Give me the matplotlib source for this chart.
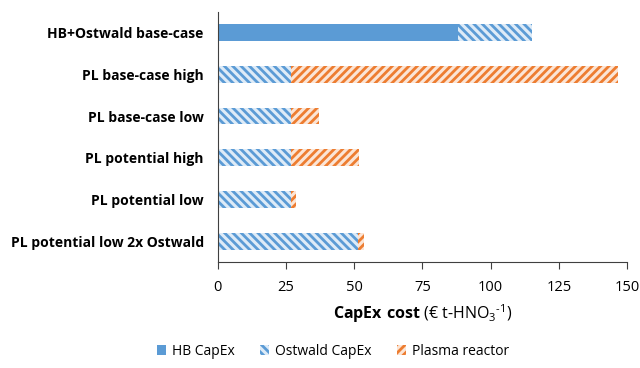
import numpy as np
import matplotlib
matplotlib.use("Agg")
from matplotlib import pyplot as plt

plt.rcParams['font.family'] = ['Open Sans', 'DejaVu Sans']
plt.rcParams['mathtext.fontset'] = 'custom'
plt.rcParams['mathtext.rm'] = 'Open Sans'
plt.rcParams['mathtext.bf'] = 'Open Sans:bold'
plt.rcParams['hatch.linewidth'] = 2.0

cases = ['HB+Ostwald base-case', 'PL base-case high', 'PL base-case low',
         'PL potential high', 'PL potential low', 'PL potential low 2x Ostwald']
hb_capex = [88, 0, 0, 0, 0, 0]
ostwald_capex = [27, 27, 27, 27, 27, 51.5]
plasma_reactor = [0, 119.5, 10.3, 24.7, 1.8, 2.0]

blue = '#5B9BD5'
orange = '#ED7D31'

fig = plt.figure(figsize=(6.4, 3.68), dpi=100)
ax = fig.add_axes([0.34, 0.288, 0.64, 0.68])

y = np.arange(len(cases))
hb = np.array(hb_capex)
ow = np.array(ostwald_capex)
pr = np.array(plasma_reactor)
h = 0.4

ax.barh(y, hb, height=h, color=blue, label='HB CapEx')
ax.barh(y, ow, left=hb, height=h, color='#DEEBF7', edgecolor=blue,
        hatch='\\\\\\\\', linewidth=0, label='Ostwald CapEx')
ax.barh(y, pr, left=hb + ow, height=h, color='#FBE5D6', edgecolor=orange,
        hatch='////', linewidth=0, label='Plasma reactor')

ax.set_ylim(len(cases) - 0.5, -0.5)
ax.set_yticks(y)
ax.set_yticklabels(cases, fontsize=10, fontweight='bold')
ax.tick_params(axis='y', length=0, pad=10)
ax.set_xlim(0, 150)
ax.set_xticks([0, 25, 50, 75, 100, 125, 150])
ax.tick_params(axis='x', labelsize=10.5, length=5, pad=8, color='#404040')
ax.spines['top'].set_visible(False)
ax.spines['right'].set_visible(False)
ax.spines['left'].set_color('#404040')
ax.spines['bottom'].set_color('#404040')
ax.set_xlabel(r'$\mathbf{CapEx\ cost}$ (€ t-HNO$_3$$^{\text{-}1}$)', fontsize=11.5, labelpad=5)

fig.legend(loc='lower center', bbox_to_anchor=(0.52, -0.01), ncol=3, frameon=False,
           fontsize=10, handlelength=0.7, handleheight=0.7, columnspacing=1.8,
           handletextpad=0.4)

fig.savefig('out.png', dpi=100)
